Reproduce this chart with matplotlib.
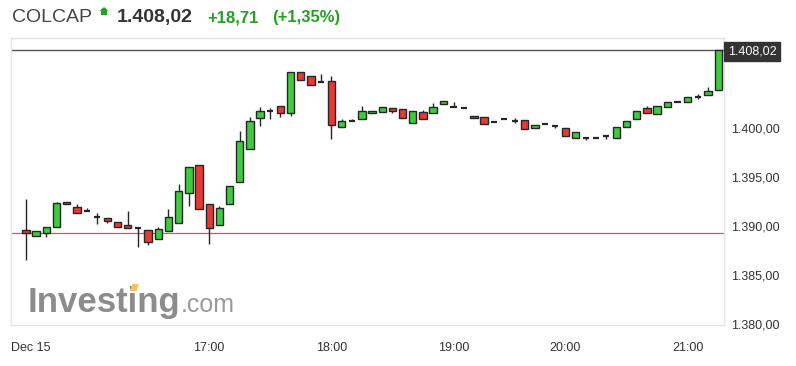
# plot.py
# -----------------------------------------------------------------------------------------------------------------
"""
COLCAP intraday 5-minute candlestick chart (Investing.com style), saved as out.png.
"""
# Import packages: ------------------------------------------------------------------------------------------------

import matplotlib
matplotlib.use('Agg')
import matplotlib.pyplot as plt
from matplotlib.patches import Polygon

# --- Data ---------------------------------------------------------------------------------------------------------
# One candle per 5 minutes (index 0 = first candle of the session)

opens = [1389.59, 1389.00, 1389.25, 1389.87, 1392.49, 1391.98, 1391.55, 1390.89, 1390.85, 1390.44,
         1390.07, 1389.76, 1389.59, 1388.64, 1389.52, 1390.28, 1393.35, 1396.23, 1392.26, 1390.10,
         1392.26, 1394.54, 1397.90, 1401.05, 1401.79, 1402.34, 1401.56, 1405.83, 1405.35, 1404.74,
         1404.84, 1400.18, 1400.77, 1400.94, 1401.56, 1401.69, 1402.10, 1401.97, 1400.53, 1401.72,
         1401.56, 1402.51, 1402.17, 1402.07, 1401.31, 1401.21, 1400.70, 1400.94, 1400.80, 1400.84,
         1400.05, 1400.43, 1400.29, 1400.08, 1399.03, 1399.06, 1399.06, 1399.23, 1398.99, 1400.18,
         1400.94, 1402.10, 1401.46, 1402.24, 1402.72, 1402.75, 1403.23, 1403.44, 1403.95]
highs = [1392.77, 1389.49, 1389.95, 1392.42, 1392.49, 1392.26, 1391.88, 1391.36, 1390.85, 1390.44,
         1391.54, 1389.78, 1389.59, 1389.93, 1391.74, 1394.31, 1396.08, 1396.23, 1392.26, 1392.08,
         1394.13, 1399.74, 1401.15, 1402.17, 1402.07, 1402.34, 1405.76, 1405.83, 1405.35, 1405.56,
         1405.38, 1400.94, 1400.97, 1402.28, 1401.83, 1402.24, 1402.10, 1401.97, 1401.76, 1401.90,
         1402.65, 1402.85, 1402.75, 1402.07, 1401.31, 1401.21, 1400.70, 1400.94, 1401.05, 1400.84,
         1400.39, 1400.43, 1400.29, 1400.08, 1399.64, 1399.06, 1399.06, 1399.23, 1400.18, 1400.80,
         1401.83, 1402.31, 1402.34, 1402.75, 1402.72, 1403.26, 1403.51, 1404.23, 1408.02]
lows = [1386.51, 1388.97, 1388.84, 1389.85, 1392.23, 1391.30, 1391.55, 1390.17, 1390.34, 1389.93,
        1389.76, 1387.88, 1388.02, 1388.64, 1389.52, 1390.28, 1392.08, 1391.71, 1388.12, 1390.10,
        1392.26, 1394.54, 1397.90, 1400.29, 1400.94, 1401.15, 1401.31, 1404.97, 1404.46, 1404.74,
        1398.89, 1400.18, 1400.77, 1400.94, 1401.56, 1401.69, 1401.56, 1401.05, 1400.53, 1400.94,
        1401.56, 1402.51, 1402.17, 1402.07, 1401.05, 1400.46, 1400.70, 1400.94, 1400.59, 1399.92,
        1400.05, 1400.43, 1400.08, 1399.26, 1399.03, 1398.82, 1399.06, 1398.95, 1398.99, 1400.18,
        1400.94, 1401.62, 1401.46, 1402.24, 1402.72, 1402.75, 1402.99, 1403.44, 1403.95]
closes = [1389.25, 1389.46, 1389.93, 1392.39, 1392.23, 1391.30, 1391.55, 1390.89, 1390.54, 1389.93,
          1389.76, 1389.76, 1388.39, 1389.69, 1390.95, 1393.62, 1396.08, 1391.71, 1389.76, 1391.88,
          1394.13, 1398.72, 1400.77, 1401.83, 1401.79, 1401.56, 1405.76, 1404.97, 1404.46, 1404.74,
          1400.33, 1400.74, 1400.77, 1401.83, 1401.83, 1402.24, 1401.83, 1401.05, 1401.76, 1400.94,
          1402.24, 1402.85, 1402.17, 1402.07, 1401.05, 1400.46, 1400.70, 1400.94, 1400.80, 1399.92,
          1400.39, 1400.43, 1400.29, 1399.26, 1399.64, 1399.06, 1399.06, 1399.23, 1400.18, 1400.80,
          1401.83, 1401.62, 1402.34, 1402.75, 1402.72, 1403.26, 1403.23, 1403.85, 1408.02]

prev_close = 1389.31
last_price = 1408.02
change = 18.71
change_pct = 1.35

tick_idx = [18, 30, 42, 53, 65]
tick_labels = ['17:00', '18:00', '19:00', '20:00', '21:00']
first_label = 'Dec 15'
y_ticks = [1380, 1385, 1390, 1395, 1400]

# --- Helpers ------------------------------------------------------------------------------------------------------

W, H = 796, 366

def fx(px):
    return px / W

def fy(py):
    return 1 - py / H

def de_fmt(v):
    # 1,400.00 -> 1.400,00
    return f"{v:,.2f}".replace(',', 'X').replace('.', ',').replace('X', '.')

GREEN = '#3ecb3e'
RED = '#e53935'
EDGE = '#262626'
TXT_GREEN = '#22a022'
FONT = 'Liberation Sans'

plt.rcParams['font.family'] = [FONT, 'DejaVu Sans']

# --- Figure -------------------------------------------------------------------------------------------------------

fig = plt.figure(figsize=(W / 100, H / 100), dpi=100)
ax = fig.add_axes([fx(11), fy(325), fx(724) - fx(11), fy(38) - fy(325)])

# candles
for i, (o, h, l, c) in enumerate(zip(opens, highs, lows, closes)):
    ax.vlines(i, l, h, color=EDGE, lw=1, zorder=2)
    if abs(c - o) < 0.02:
        ax.hlines(o, i - 0.3, i + 0.3, color=EDGE, lw=1.6, zorder=3)
    else:
        ax.bar(i, abs(c - o), bottom=min(o, c), width=0.72,
               color=GREEN if c > o else RED, edgecolor=EDGE, lw=1, zorder=3)

# previous close and last price lines
ax.axhline(prev_close, color='#d05a5a', lw=0.9, zorder=1)
ax.axhline(last_price, color='#555555', lw=1, zorder=1)

ax.set_xlim(-1.47, 68.57)
ax.set_ylim(1379.85, 1409.28)

ax.yaxis.tick_right()
ax.set_yticks(y_ticks, [de_fmt(v) for v in y_ticks])
ax.set_xticks([-1.47] + tick_idx, [first_label] + tick_labels)
ax.tick_params(axis='both', length=0, labelsize=9, colors='#333333')
ax.tick_params(axis='y', pad=5)
ax.tick_params(axis='x', pad=12)
ax.get_xticklabels()[0].set_horizontalalignment('left')
for s in ax.spines.values():
    s.set_color('#e4e4e4')
    s.set_linewidth(1)

# last price box on the right axis
ax.annotate(de_fmt(last_price), xy=(1, last_price), xycoords=('axes fraction', 'data'),
            xytext=(4, -1), textcoords='offset pixels', ha='left', va='center',
            fontsize=9, color='white',
            bbox=dict(boxstyle='square,pad=0.3', fc='#333333', ec='#333333'))

# --- Header -------------------------------------------------------------------------------------------------------

base = fy(22.3)
fig.text(fx(12), base, 'COLCAP', fontsize=14, color='#444444', va='baseline')
fig.add_artist(Polygon([(fx(104), fy(7)), (fx(108.5), fy(11)), (fx(107), fy(11)), (fx(107), fy(15)),
                        (fx(101), fy(15)), (fx(101), fy(11)), (fx(99.5), fy(11))],
                       closed=True, fc=TXT_GREEN, ec='none', transform=fig.transFigure))
fig.text(fx(117), base, de_fmt(last_price), fontsize=14, fontweight='bold', color='#333333', va='baseline')
fig.text(fx(207), base, '+' + de_fmt(change), fontsize=12, fontweight='bold', color=TXT_GREEN, va='baseline')
fig.text(fx(272), base, '(+' + f"{change_pct:.2f}".replace('.', ',') + '%)', fontsize=12,
         fontweight='bold', color=TXT_GREEN, va='baseline')

# --- Watermark ----------------------------------------------------------------------------------------------------

fig.text(fx(28), fy(311.7), 'Investing', fontsize=25, fontweight='bold', color='#8c8c8c', va='baseline')
fig.text(fx(181), fy(311.7), '.com', fontsize=18, color='#9a9a9a', va='baseline')
fig.add_artist(Polygon([(fx(130), fy(291)), (fx(132.5), fy(284)), (fx(139), fy(284)), (fx(136.5), fy(291))],
                       closed=True, fc='#f6c15a', ec='none', transform=fig.transFigure, zorder=5))

fig.savefig('out.png', dpi=100)
